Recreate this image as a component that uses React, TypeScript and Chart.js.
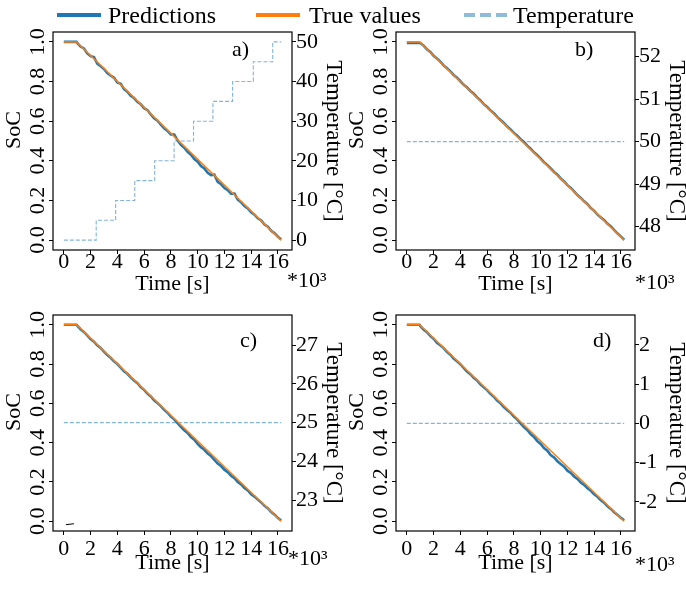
import React, { useEffect, useRef } from 'react';
import { Chart, registerables } from 'chart.js';

Chart.register(...registerables);

const FONT = "'Liberation Serif', 'Times New Roman', serif";

// ---------- data (time in 10^3 s) ----------
const TIME_KS = [
  0, 0.95, 1, 1.25, 1.5, 1.75, 2, 2.25, 2.5, 2.75, 3, 3.25, 3.5, 3.75, 4, 4.25, 4.5, 4.75,
  5, 5.25, 5.5, 5.75, 6, 6.25, 6.5, 6.75, 7, 7.25, 7.5, 7.75, 8, 8.25, 8.5, 8.75, 9, 9.25,
  9.5, 9.75, 10, 10.25, 10.5, 10.75, 11, 11.25, 11.5, 11.75, 12, 12.25, 12.5, 12.75, 13,
  13.25, 13.5, 13.75, 14, 14.25, 14.5, 14.75, 15, 15.25, 15.5, 15.75, 16, 16.24,
];

const TRUE_TIME_KS = [0, 0.95, 16.24];
const TRUE_SOC = [1, 1, 0];

const PRED_A = [
  1, 1, 0.9947, 0.9764, 0.967, 0.9417, 0.9283, 0.923, 0.8906, 0.8773, 0.8639, 0.8426, 0.8302,
  0.8189, 0.7955, 0.7882, 0.7618, 0.7485, 0.7281, 0.7168, 0.6974, 0.6851, 0.6657, 0.6554,
  0.634, 0.6147, 0.6023, 0.583, 0.5636, 0.5513, 0.5329, 0.5326, 0.5032, 0.4809, 0.4665,
  0.4452, 0.4308, 0.4085, 0.3961, 0.3738, 0.3614, 0.3391, 0.3277, 0.3304, 0.294, 0.2817,
  0.2623, 0.252, 0.2336, 0.2343, 0.2039, 0.1906, 0.1722, 0.1599, 0.1405, 0.1282, 0.1098,
  0.0995, 0.0781, 0.0677, 0.0464, 0.034, 0.0167, 0.003,
];
const PRED_B = [
  0.995, 0.995, 0.9947, 0.9814, 0.963, 0.9497, 0.9303, 0.916, 0.9006, 0.8813, 0.8669, 0.8516,
  0.8332, 0.8189, 0.8015, 0.7832, 0.7698, 0.7525, 0.7381, 0.7198, 0.7044, 0.6861, 0.6717,
  0.6544, 0.64, 0.6217, 0.6063, 0.591, 0.5726, 0.5583, 0.5409, 0.5266, 0.5092, 0.4949,
  0.4765, 0.4612, 0.4428, 0.4285, 0.4111, 0.3928, 0.3784, 0.3611, 0.3437, 0.3294, 0.311,
  0.2957, 0.2773, 0.263, 0.2456, 0.2273, 0.2129, 0.1956, 0.1812, 0.1619, 0.1475, 0.1282,
  0.1138, 0.1005, 0.0821, 0.0687, 0.0504, 0.033, 0.0177, 0.002,
];
const PRED_C = [
  1, 1, 0.9957, 0.9774, 0.964, 0.9457, 0.9273, 0.914, 0.8956, 0.8823, 0.8639, 0.8456, 0.8322,
  0.8139, 0.8005, 0.7822, 0.7638, 0.7505, 0.7321, 0.7168, 0.7024, 0.6831, 0.6687, 0.6494,
  0.635, 0.6157, 0.6013, 0.586, 0.5666, 0.5523, 0.5329, 0.5186, 0.4992, 0.4809, 0.4625,
  0.4492, 0.4278, 0.4145, 0.3941, 0.3758, 0.3634, 0.3441, 0.3317, 0.3124, 0.293, 0.2807,
  0.2623, 0.25, 0.2316, 0.2193, 0.1999, 0.1876, 0.1692, 0.1569, 0.1375, 0.1252, 0.1098,
  0.0955, 0.0781, 0.0647, 0.0464, 0.033, 0.0157, 0.003,
];
const PRED_D = [
  1, 1, 0.9947, 0.9754, 0.963, 0.9437, 0.9293, 0.909, 0.8956, 0.8813, 0.8619, 0.8476, 0.8282,
  0.8139, 0.7995, 0.7802, 0.7618, 0.7485, 0.7301, 0.7168, 0.6964, 0.6821, 0.6677, 0.6484,
  0.634, 0.6147, 0.6003, 0.581, 0.5666, 0.5523, 0.5329, 0.5186, 0.4982, 0.4789, 0.4645,
  0.4432, 0.4288, 0.4075, 0.3931, 0.3718, 0.3594, 0.3371, 0.3247, 0.3054, 0.291, 0.2777,
  0.2573, 0.246, 0.2276, 0.2153, 0.1969, 0.1846, 0.1672, 0.1549, 0.1365, 0.1242, 0.1068,
  0.0935, 0.0761, 0.0627, 0.0454, 0.032, 0.0167, 0.005,
];

const TEMP_A_TIME_KS = [0, 2.42, 3.87, 5.3, 6.79, 8.24, 9.69, 11.14, 12.61, 14.16, 15.61, 16.24];
const TEMP_A = [0, 5, 10, 15, 20, 25, 30, 35, 40, 45, 50, 50];
const TEMP_CONST_TIME_KS = [0, 16.24];
const TEMP_B = [50, 50];
const TEMP_C = [25, 25];
const TEMP_D = [0, 0];

const ARTIFACT_C_TIME_KS = [0.15, 0.75];
const ARTIFACT_C_SOC = [-0.018, -0.013];

const X_TICKS = [0, 2, 4, 6, 8, 10, 12, 14, 16];
const SOC_TICKS = [0, 0.2, 0.4, 0.6, 0.8, 1.0];
const TEMP_TICKS_A = [0, 10, 20, 30, 40, 50];
const TEMP_TICKS_B = [48, 49, 50, 51, 52];
const TEMP_TICKS_C = [23, 24, 25, 26, 27];
const TEMP_TICKS_D = [-2, -1, 0, 1, 2];

const X_MIN = -0.81;
const X_MAX = 17.05;
const SOC_MIN = -0.05;
const SOC_MAX = 1.05;

// ---------- layout ----------
type Panel = {
  key: string;
  left: number;
  top: number;
  height: number;
  padTop: number;
  xAxisH: number;
  xTickPad: number;
  xTitlePad: number;
  pred: number[];
  tempTime: number[];
  temp: number[];
  tempMin: number;
  tempMax: number;
  tempTicks: number[];
  letter: string;
  letterX: number;
  letterY: number;
  expX: number;
  expY: number;
  artifact?: boolean;
};

const PANELS: Panel[] = [
  {
    key: 'a', left: 0, top: 0, height: 300, padTop: 32, xAxisH: 50, xTickPad: -3, xTitlePad: 5,
    pred: PRED_A, tempTime: TEMP_A_TIME_KS, temp: TEMP_A, tempMin: -2.5, tempMax: 52.5,
    tempTicks: TEMP_TICKS_A, letter: 'a)', letterX: 232, letterY: 50, expX: 287, expY: 281,
  },
  {
    key: 'b', left: 343, top: 0, height: 300, padTop: 32, xAxisH: 50, xTickPad: -3, xTitlePad: 5,
    pred: PRED_B, tempTime: TEMP_CONST_TIME_KS, temp: TEMP_B, tempMin: 47.45, tempMax: 52.58,
    tempTicks: TEMP_TICKS_B, letter: 'b)', letterX: 232, letterY: 50, expX: 292, expY: 283,
  },
  {
    key: 'c', left: 0, top: 300, height: 289, padTop: 15, xAxisH: 58, xTickPad: 3, xTitlePad: 15,
    pred: PRED_C, tempTime: TEMP_CONST_TIME_KS, temp: TEMP_C, tempMin: 22.2, tempMax: 27.78,
    tempTicks: TEMP_TICKS_C, letter: 'c)', letterX: 240, letterY: 41, expX: 288, expY: 259,
    artifact: true,
  },
  {
    key: 'd', left: 343, top: 300, height: 289, padTop: 15, xAxisH: 58, xTickPad: 3, xTitlePad: 15,
    pred: PRED_D, tempTime: TEMP_CONST_TIME_KS, temp: TEMP_D, tempMin: -2.74, tempMax: 2.76,
    tempTicks: TEMP_TICKS_D, letter: 'd)', letterX: 250, letterY: 41, expX: 292, expY: 265,
  },
];

const PANEL_W = 343;
const LEFT_AXIS_W = 53;
const RIGHT_AXIS_W = 51;

const pts = (xs: number[], ys: number[]) =>
  xs.slice(0, Math.min(xs.length, ys.length)).map((x, i) => ({ x, y: ys[i] }));

function PanelChart({ p }: { p: Panel }) {
  const ref = useRef<HTMLCanvasElement | null>(null);

  useEffect(() => {
    if (!ref.current) return;
    const tickFont = { family: FONT, size: 22, lineHeight: 1 };
    const titleFont = { family: FONT, size: 22, lineHeight: 1 };
    const tickGrid = {
      display: true,
      drawOnChartArea: false,
      drawTicks: true,
      tickLength: 4,
      tickWidth: 1,
      tickColor: '#000',
      color: '#000',
    };

    const decor = {
      id: 'decor_' + p.key,
      afterDraw(chart: any) {
        const { ctx, chartArea } = chart;
        ctx.save();
        ctx.strokeStyle = '#000';
        ctx.lineWidth = 1.2;
        ctx.strokeRect(
          chartArea.left,
          chartArea.top,
          chartArea.right - chartArea.left,
          chartArea.bottom - chartArea.top
        );
        ctx.fillStyle = '#000';
        ctx.font = `22px ${FONT}`;
        ctx.textBaseline = 'middle';
        ctx.textAlign = 'left';
        ctx.fillText(p.letter, p.letterX, p.letterY);
        ctx.fillText('*10³', p.expX, p.expY);
        ctx.restore();
      },
    };

    const datasets: any[] = [
      {
        label: 'True values',
        data: pts(TRUE_TIME_KS, TRUE_SOC),
        borderColor: '#ff7f0e',
        borderWidth: 1.5,
        pointRadius: 0,
        tension: 0,
        yAxisID: 'y',
      },
      {
        label: 'Predictions',
        data: pts(TIME_KS, p.pred),
        borderColor: '#1f77b4',
        borderWidth: 2.6,
        pointRadius: 0,
        tension: 0,
        yAxisID: 'y',
      },
      {
        label: 'Temperature',
        data: pts(p.tempTime, p.temp),
        borderColor: 'rgba(31,119,180,0.55)',
        borderWidth: 1.1,
        borderDash: [4, 2],
        stepped: 'before',
        pointRadius: 0,
        yAxisID: 'y2',
      },
    ];
    if (p.artifact) {
      datasets.push({
        label: '',
        data: pts(ARTIFACT_C_TIME_KS, ARTIFACT_C_SOC),
        borderColor: '#000',
        borderWidth: 1,
        pointRadius: 0,
        yAxisID: 'y',
      });
    }

    const chart = new Chart(ref.current, {
      type: 'line',
      data: { datasets },
      options: {
        animation: false,
        responsive: false,
        maintainAspectRatio: false,
        devicePixelRatio: 1,
        events: [],
        layout: { padding: { top: p.padTop, left: 0, right: 0, bottom: 0 } },
        plugins: { legend: { display: false }, tooltip: { enabled: false } },
        scales: {
          x: {
            type: 'linear',
            position: 'bottom',
            min: X_MIN,
            max: X_MAX,
            afterBuildTicks: (s: any) => {
              s.ticks = X_TICKS.map((v) => ({ value: v }));
            },
            afterFit: (s: any) => {
              s.height = p.xAxisH;
            },
            ticks: {
              font: tickFont,
              color: '#000',
              padding: p.xTickPad,
              minRotation: 0,
              maxRotation: 0,
              autoSkip: false,
              callback: (v: any) => String(v),
            },
            grid: tickGrid,
            border: { display: false },
            title: {
              display: true,
              text: 'Time [s]',
              color: '#000',
              font: titleFont,
              padding: { top: 0, bottom: p.xTitlePad },
            },
          },
          y: {
            type: 'linear',
            position: 'left',
            min: SOC_MIN,
            max: SOC_MAX,
            afterBuildTicks: (s: any) => {
              s.ticks = SOC_TICKS.map((v) => ({ value: v }));
            },
            afterFit: (s: any) => {
              s.width = LEFT_AXIS_W;
            },
            ticks: {
              font: tickFont,
              color: '#000',
              padding: -2.5,
              minRotation: 90,
              maxRotation: 90,
              crossAlign: 'center',
              autoSkip: false,
              callback: (v: any) => Number(v).toFixed(1),
            },
            grid: tickGrid,
            border: { display: false },
            title: {
              display: true,
              text: '\u2002\u2002SoC',
              color: '#000',
              font: titleFont,
              padding: { top: 3.5, bottom: 0 },
            },
          },
          y2: {
            type: 'linear',
            position: 'right',
            min: p.tempMin,
            max: p.tempMax,
            afterBuildTicks: (s: any) => {
              s.ticks = p.tempTicks.map((v) => ({ value: v }));
            },
            afterFit: (s: any) => {
              s.width = RIGHT_AXIS_W;
            },
            ticks: {
              font: tickFont,
              color: '#000',
              padding: 0,
              autoSkip: false,
              callback: (v: any) => String(v),
            },
            grid: tickGrid,
            border: { display: false },
            title: {
              display: true,
              text: 'Temperature [°C]',
              color: '#000',
              font: { family: FONT, size: 23, lineHeight: 1 },
              padding: { top: -1.5, bottom: 0 },
            },
          },
        },
      } as any,
      plugins: [decor],
    });
    return () => chart.destroy();
  }, [p]);

  return (
    <canvas
      ref={ref}
      width={PANEL_W}
      height={p.height}
      style={{ position: 'absolute', left: p.left, top: p.top, width: PANEL_W, height: p.height }}
    />
  );
}

const LEGEND_ITEMS = ['Predictions', 'True values', 'Temperature'];

function Legend() {
  const textStyle: React.CSSProperties = {
    position: 'absolute',
    top: 3,
    fontFamily: FONT,
    fontSize: 24,
    lineHeight: '24px',
    color: '#000',
    whiteSpace: 'nowrap',
  };
  const line = (left: number, width: number, color: string): React.CSSProperties => ({
    position: 'absolute',
    left,
    top: 13,
    width,
    height: 4,
    background: color,
  });
  const dash = 'rgba(31,119,180,0.5)';
  return (
    <div style={{ position: 'absolute', left: 0, top: 0, width: 686, height: 30 }}>
      <div style={line(57, 44, '#1f77b4')} />
      <span style={{ ...textStyle, left: 108 }}>{LEGEND_ITEMS[0]}</span>
      <div style={line(256, 44, '#ff7f0e')} />
      <span style={{ ...textStyle, left: 309 }}>{LEGEND_ITEMS[1]}</span>
      <div style={line(464, 11, dash)} />
      <div style={line(480, 11, dash)} />
      <div style={line(496, 11, dash)} />
      <span style={{ ...textStyle, left: 513 }}>{LEGEND_ITEMS[2]}</span>
    </div>
  );
}

export default function App() {
  return (
    <div style={{ position: 'absolute', left: 0, top: 0, width: 686, height: 589, background: '#fff' }}>
      {PANELS.map((p) => (
        <PanelChart key={p.key} p={p} />
      ))}
      <Legend />
    </div>
  );
}
